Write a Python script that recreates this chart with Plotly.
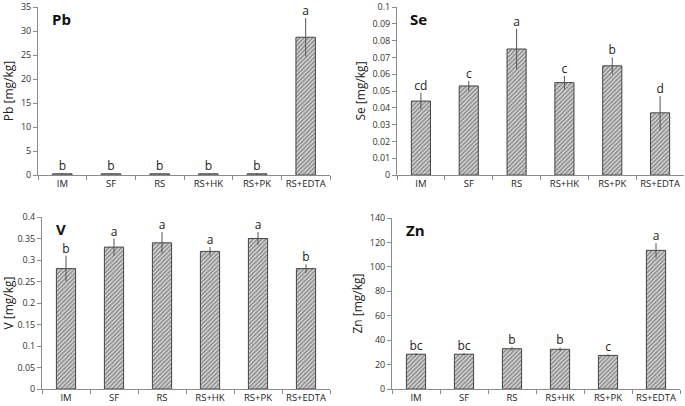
import plotly.graph_objects as go

categories = ["IM", "SF", "RS", "RS+HK", "RS+PK", "RS+EDTA"]

pb_values = [0.25, 0.25, 0.25, 0.25, 0.25, 28.7]
pb_errors = [0.1, 0.1, 0.1, 0.1, 0.1, 4.0]
pb_letters = ["b", "b", "b", "b", "b", "a"]

se_values = [0.044, 0.053, 0.075, 0.055, 0.065, 0.037]
se_errors = [0.005, 0.003, 0.012, 0.004, 0.005, 0.010]
se_letters = ["cd", "c", "a", "c", "b", "d"]

v_values = [0.28, 0.33, 0.34, 0.32, 0.35, 0.28]
v_errors = [0.03, 0.02, 0.025, 0.01, 0.015, 0.01]
v_letters = ["b", "a", "a", "a", "a", "b"]

zn_values = [28.5, 28.5, 33.0, 32.5, 27.5, 113.5]
zn_errors = [1.0, 1.0, 1.5, 1.5, 1.0, 6.0]
zn_letters = ["bc", "bc", "b", "b", "c", "a"]

panels = [
    ("Pb", pb_values, pb_errors, pb_letters, [0, 35], 5),
    ("Se", se_values, se_errors, se_letters, [0, 0.1], 0.01),
    ("V", v_values, v_errors, v_letters, [0, 0.4], 0.05),
    ("Zn", zn_values, zn_errors, zn_letters, [0, 140], 20),
]

W, H = 685, 406
# plot-area pixel boxes (x0, x1, ytop, ybottom)
boxes = [(38, 330, 7, 175), (397, 684, 7, 175), (42, 330, 217, 389), (392, 680, 218, 389)]

fig = go.Figure()
font_fam = "Open Sans, Liberation Sans, sans-serif"
txt_col = "#222222"
axis_col = "#8c8c8c"

for i, (name, vals, errs, letters, yr, dt) in enumerate(panels):
    n = i + 1
    xa = "x" if n == 1 else f"x{n}"
    ya = "y" if n == 1 else f"y{n}"
    fig.add_trace(go.Bar(
        x=categories, y=vals, xaxis=xa, yaxis=ya,
        marker=dict(
            color="#cccccc",
            line=dict(color="#454545", width=1),
            pattern=dict(shape="/", size=3, solidity=0.5, fgcolor="#3a3a3a", bgcolor="#d8d8d8"),
        ),
        error_y=dict(type="data", array=errs, visible=True, color="#555555", thickness=1, width=0),
        showlegend=False,
    ))
    fig.add_trace(go.Scatter(
        x=categories, y=[v + e for v, e in zip(vals, errs)], xaxis=xa, yaxis=ya,
        mode="text", text=letters, textposition="top center",
        textfont=dict(size=12, color=txt_col, family=font_fam),
        showlegend=False, cliponaxis=False,
    ))
    x0, x1, yt, yb = boxes[i]
    xkey = "xaxis" if n == 1 else f"xaxis{n}"
    ykey = "yaxis" if n == 1 else f"yaxis{n}"
    fig.update_layout(**{
        xkey: dict(
            domain=[x0 / W, x1 / W], anchor=ya, type="category", automargin=False,
            showline=True, linecolor=axis_col, linewidth=1, tickangle=0,
            ticks="outside", tickson="boundaries", ticklen=4, tickcolor=axis_col,
            showgrid=False, zeroline=False,
            tickfont=dict(size=9.5, color="#222222", family=font_fam),
        ),
        ykey: dict(
            domain=[1 - yb / H, 1 - yt / H], anchor=xa, range=yr, dtick=dt, automargin=False,
            showline=True, linecolor=axis_col, linewidth=1, ticklabeloverflow="allow",
            ticks="outside", ticklen=4, tickcolor=axis_col,
            showgrid=False, zeroline=False,
            tickfont=dict(size=9, color="#333333", family=font_fam),
            title=dict(text=f"{name} [mg/kg]", font=dict(size=12, color="#222222", family=font_fam), standoff=4),
        ),
    })
    fig.add_annotation(
        xref=f"{xa} domain", yref=f"{ya} domain", x=0.04, y=1.0,
        text=f"<b>{name}</b>", showarrow=False, xanchor="left", yanchor="top",
        font=dict(size=15, color="#111111", family=font_fam),
    )

fig.update_layout(
    width=W, height=H, margin=dict(l=0, r=0, t=0, b=0),
    paper_bgcolor="white", plot_bgcolor="white",
    bargap=0.6,
)

fig.write_html(
    "out.html",
    config={"displayModeBar": False},
    post_script="document.body.style.margin='0';document.body.style.overflow='hidden';",
)
